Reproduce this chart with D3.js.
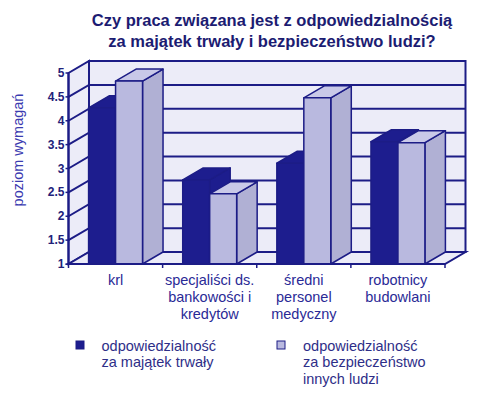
<!DOCTYPE html>
<html><head><meta charset="utf-8">
<script src="https://cdn.jsdelivr.net/npm/d3@7"></script>
<style>body{margin:0;background:#fff}svg{display:block;font-family:"Liberation Sans",Arial,sans-serif}</style>
</head><body>
<svg id="c" width="480" height="399"></svg>
<script>
const categories = [["krl"],["specjaliści ds.","bankowości i","kredytów"],["średni","personel","medyczny"],["robotnicy","budowlani"]];
const seriesNames = ["majatek","bezpieczenstwo"];
const seriesMajatek = [4.27, 2.76, 3.11, 3.56];
const seriesBezp = [4.83, 2.47, 4.48, 3.54];
const yTicks = [1,1.5,2,2.5,3,3.5,4,4.5,5];
const yTickLabels = ["1","1.5","2","2.5","3","3.5","4","4.5","5"];
const titleLines = ["Czy praca związana jest z odpowiedzialnością","za majątek trwały i bezpieczeństwo ludzi?"];
const yTitle = "poziom wymagań";
const legendLabels = [["odpowiedzialność","za majątek trwały"],["odpowiedzialność","za bezpieczeństwo","innych ludzi"]];

const svg = d3.select("#c");
const line = "#1c1c86", dark = "#1d1d8e", lightF = "#b9b9df", lightT = "#c9c9e8", lightS = "#b0b0d4", wall = "#ececf8";
const DX = 20.5, DY = -12;
const x = d3.scaleBand().domain(d3.range(categories.length)).range([68.5,445]).padding(0);
const xs = d3.scaleBand().domain(seriesNames).range([0,x.bandwidth()]).paddingInner(0).paddingOuter(0.745);
const y = d3.scaleLinear().domain([1,5]).range([264,73]);
const x0 = x.range()[0], x1 = x.range()[1];

const g = svg.append("g");
const pts = a => a.map(p=>p.join(",")).join(" ");
g.append("polygon").attr("points", pts([[x0+DX,y(5)+DY],[x1+DX,y(5)+DY],[x1+DX,y(1)+DY],[x0+DX,y(1)+DY]]))
  .attr("fill", wall).attr("stroke", line).attr("stroke-width", 2);
g.append("polygon").attr("points", pts([[x0,y(1)],[x0,y(5)],[x0+DX,y(5)+DY],[x0+DX,y(1)+DY]]))
  .attr("fill", wall).attr("stroke", line).attr("stroke-width", 2);
g.append("polygon").attr("points", pts([[x0,y(1)],[x1,y(1)],[x1+DX,y(1)+DY],[x0+DX,y(1)+DY]]))
  .attr("fill", wall).attr("stroke", line).attr("stroke-width", 2);
yTicks.slice(1,-1).forEach(t=>{
  g.append("polyline").attr("points", pts([[x0,y(t)],[x0+DX,y(t)+DY],[x1+DX,y(t)+DY]]))
   .attr("fill","none").attr("stroke", line).attr("stroke-width", 2);
});
const ax = svg.append("g");
ax.append("line").attr("x1",x0).attr("x2",x0).attr("y1",y(1)).attr("y2",y(5)).attr("stroke",line).attr("stroke-width",2);
yTicks.forEach((t,i)=>{
  ax.append("line").attr("x1",x0-3).attr("x2",x0).attr("y1",y(t)).attr("y2",y(t)).attr("stroke",line).attr("stroke-width",1.5);
  ax.append("text").attr("x",x0-4).attr("y",y(t)+4).attr("text-anchor","end")
    .attr("font-size",12).attr("font-weight","bold").attr("fill","#22227a").text(yTickLabels[i]);
});
ax.append("line").attr("x1",x0).attr("x2",x1).attr("y1",y(1)).attr("y2",y(1)).attr("stroke",line).attr("stroke-width",2);
d3.range(categories.length+1).forEach(i=>{
  const xx = i<categories.length ? x(i) : x1;
  ax.append("line").attr("x1",xx).attr("x2",xx).attr("y1",y(1)).attr("y2",y(1)+4).attr("stroke",line).attr("stroke-width",1.5);
});
function bar(xa, w, v, cf, ct, cs){
  const xb = xa+w, yt = y(v), yb = y(1);
  const b = svg.append("g").attr("stroke", line).attr("stroke-width",1.5).attr("stroke-linejoin","round");
  b.append("polygon").attr("points", pts([[xb,yt],[xb+DX,yt+DY],[xb+DX,yb+DY],[xb,yb]])).attr("fill", cs);
  b.append("polygon").attr("points", pts([[xa,yt],[xb,yt],[xb+DX,yt+DY],[xa+DX,yt+DY]])).attr("fill", ct);
  b.append("rect").attr("x",xa).attr("y",yt).attr("width",w).attr("height",yb-yt).attr("fill", cf);
}
categories.forEach((c,i)=>{
  bar(x(i)+xs("majatek"), xs.bandwidth(), seriesMajatek[i], dark, dark, dark);
  bar(x(i)+xs("bezpieczenstwo"), xs.bandwidth(), seriesBezp[i], lightF, lightT, lightS);
});
svg.append("line").attr("x1",x0).attr("x2",x1).attr("y1",y(1)).attr("y2",y(1)).attr("stroke",line).attr("stroke-width",2);
categories.forEach((c,i)=>{
  const t = svg.append("text").attr("text-anchor","middle").attr("font-size",14.5).attr("fill","#2a2a96");
  c.forEach((s,j)=>t.append("tspan").attr("x", x(i)+x.bandwidth()/2).attr("y", 284.5+j*17).text(s));
});
const tt = svg.append("text").attr("text-anchor","middle").attr("font-size",16.5).attr("font-weight","bold").attr("fill","#1c1c72");
titleLines.forEach((s,j)=>tt.append("tspan").attr("x",272).attr("y",26+j*20.5).text(s));
svg.append("text").attr("transform","translate(23,150) rotate(-90)").attr("text-anchor","middle")
  .attr("font-size",14.5).attr("fill","#3b3bb0").text(yTitle);
const legX = [76, 277], legTX = [101.5, 303];
const legColors = [dark, lightF];
legendLabels.forEach((lab,i)=>{
  svg.append("rect").attr("x",legX[i]).attr("y",341).attr("width",8).attr("height",8)
    .attr("fill",legColors[i]).attr("stroke",line).attr("stroke-width",1);
  const t = svg.append("text").attr("font-size",14.5).attr("fill","#2e2e88");
  lab.forEach((s,j)=>t.append("tspan").attr("x",legTX[i]).attr("y",350.5+j*16.5).text(s));
});
</script>
</body></html>
